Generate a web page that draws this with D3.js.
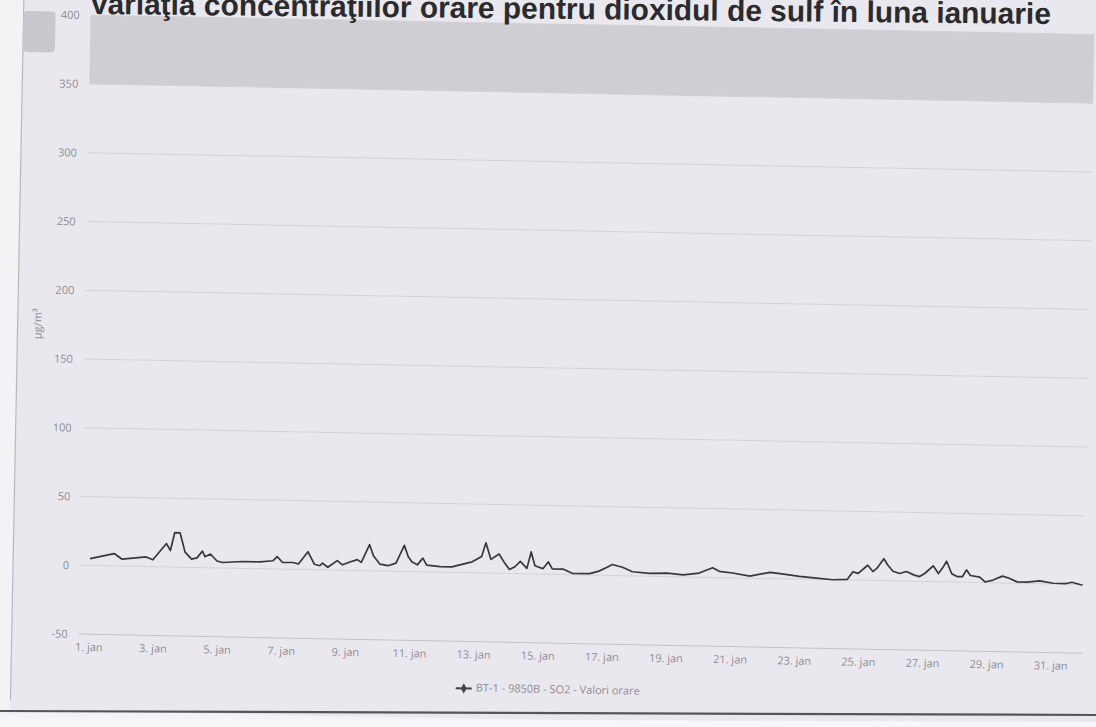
<!DOCTYPE html>
<html>
<head>
<meta charset="utf-8">
<script src="https://cdn.jsdelivr.net/npm/d3@7"></script>
<style>
html,body{margin:0;padding:0;background:#f3f3f5;}
svg{display:block;}
</style>
</head>
<body>
<svg id="chart" width="1096" height="727"></svg>
<script>
// ---------- data ----------
const titleText = "Variaţia concentraţiilor orare pentru dioxidul de sulf în luna ianuarie";
const yAxisTitle = "µg/m³";
const seriesName = "BT-1 - 9850B - SO2 - Valori orare";
const yTickValues = [-50, 0, 50, 100, 150, 200, 250, 300, 350, 400];
const tickDays = [1, 3, 5, 7, 9, 11, 13, 15, 17, 19, 21, 23, 25, 27, 29, 31];
const tickLabels = ["1. jan", "3. jan", "5. jan", "7. jan", "9. jan", "11. jan", "13. jan", "15. jan",
                    "17. jan", "19. jan", "21. jan", "23. jan", "25. jan", "27. jan", "29. jan", "31. jan"];
const plotBand = [350, 400];
// hours since 1 January 00:00
const hours = [0, 18, 24, 42, 47, 57, 60, 63, 67, 71, 76, 80, 84, 86, 90, 95, 99, 114, 127, 137,
  140, 144, 152, 156, 163, 168, 172, 174, 178, 185, 189, 194, 200, 203, 209, 212, 217, 223, 229, 235,
  238, 241, 245, 249, 252, 262, 271, 282, 286, 293, 296, 300, 306, 310, 314, 318, 322, 327, 330, 333,
  339, 343, 346, 354, 361, 374, 381, 387, 391, 399, 406, 419, 432, 444, 456, 466, 471, 481, 494, 509,
  518, 531, 544, 556, 567, 571, 575, 582, 586, 589, 594, 597, 601, 606, 611, 617, 621, 625, 631, 635,
  638, 641, 645, 649, 653, 656, 659, 666, 670, 676, 683, 688, 694, 701, 711, 721, 731, 735, 743];
const values = [5, 9, 5, 7, 5, 17, 12, 25, 25, 11, 6, 7, 12, 8, 10, 5, 4, 5, 5, 6,
  9, 5, 5, 4, 13, 4, 3, 5, 2, 7, 4, 6, 8, 6, 19, 11, 5, 4, 6, 19,
  11, 7, 5, 10, 5, 4, 4, 7, 8, 12, 22, 10, 14, 8, 3, 5, 9, 4, 16, 6,
  4, 9, 4, 4, 1, 1, 3, 6, 8, 6, 3, 2, 2.5, 1.5, 3, 7, 4.5, 3.5, 1.5, 4.5,
  3.5, 2, 1, 0, 0.5, 6, 5, 11, 6.5, 9, 16, 11.5, 7, 5.5, 7, 4.5, 3.5, 6, 11.5, 6,
  10, 15, 6, 4, 4, 9, 5, 4, 0.5, 2, 5, 3.5, 1, 1, 2, 0.5, 0.5, 1.5, -0.5];

// ---------- layout ----------
const W = 1096, H = 727;
const plot = {left: 84, right: 1088, top: 24, bottom: 643};
const tilt = 1.1; // the scanned page is slightly rotated

const svg = d3.select("#chart");
svg.append("rect").attr("width", W).attr("height", H).attr("fill", "#f3f3f5");

const g = svg.append("g").attr("transform", `rotate(${tilt},548,363)`);

// chart container background
g.append("rect").attr("x", 17).attr("y", -60).attr("width", 1200).attr("height", 780)
  .attr("fill", "#eae8ef");
g.append("line").attr("x1", 17).attr("x2", 17).attr("y1", -60).attr("y2", 711)
  .attr("stroke", "#b9b8be").attr("stroke-width", 1.2);

// scales
const x = d3.scaleLinear().domain([-7.4, 744]).range([plot.left, plot.right]);
const y = d3.scaleLinear().domain([-50, 400]).range([plot.bottom, plot.top]);

// plot band
g.append("rect")
  .attr("x", plot.left).attr("width", plot.right - plot.left)
  .attr("y", y(plotBand[1])).attr("height", y(plotBand[0]) - y(plotBand[1]))
  .attr("fill", "#cfced2");

// y axis with grid
const yAxis = d3.axisLeft(y).tickValues(yTickValues).tickSize(0).tickPadding(0)
  .tickFormat(d => String(d));
const yg = g.append("g").attr("transform", `translate(${plot.left - 11},0)`).call(yAxis);
yg.select(".domain").remove();
yg.selectAll("text").attr("fill", "#8e8d92").attr("font-size", 11)
  .attr("font-family", "Open Sans, sans-serif");

g.append("g").selectAll("line").data(yTickValues).join("line")
  .attr("x1", plot.left).attr("x2", plot.right)
  .attr("y1", d => y(d)).attr("y2", d => y(d))
  .attr("stroke", d => d === -50 ? "#c4c3c9" : "#d3d2d8").attr("stroke-width", 1);

// y axis title
g.append("text").attr("transform", `translate(38,${(plot.top + plot.bottom) / 2}) rotate(-90)`)
  .attr("text-anchor", "middle").attr("dominant-baseline", "middle")
  .attr("font-family", "Open Sans, sans-serif").attr("font-size", 11).attr("fill", "#8e8d92")
  .text(yAxisTitle);

// x axis labels (below the plot)
const xAxis = d3.axisBottom(x).tickValues(tickDays.map(d => (d - 1) * 24)).tickSize(0).tickPadding(0)
  .tickFormat((d, i) => tickLabels[i]);
const xg = g.append("g").attr("transform", `translate(0,${plot.bottom + 9})`).call(xAxis);
xg.select(".domain").remove();
xg.selectAll("text").attr("fill", "#8e8d92").attr("font-size", 11)
  .attr("font-family", "Open Sans, sans-serif");

// series line
const pts = hours.map((h, i) => [h, values[i]]);
const line = d3.line().x(d => x(d[0])).y(d => y(d[1]));
g.append("path").datum(pts).attr("d", line)
  .attr("fill", "none").attr("stroke", "#38373b").attr("stroke-width", 1.7)
  .attr("stroke-linejoin", "round");

// legend
const lg = g.append("g").attr("transform", "translate(470,690)");
lg.append("line").attr("x1", -8).attr("x2", 8).attr("y1", 0).attr("y2", 0)
  .attr("stroke", "#45444a").attr("stroke-width", 2);
lg.append("path").attr("d", d3.symbol(d3.symbolDiamond, 30)()).attr("fill", "#45444a");
lg.append("text").attr("x", 12).attr("y", 0).attr("dominant-baseline", "middle")
  .attr("font-family", "Open Sans, sans-serif").attr("font-size", 11).attr("fill", "#8e8d92")
  .text(seriesName);

// export-style button at top-left
g.append("rect").attr("x", 17).attr("y", 21).attr("width", 32).attr("height", 41).attr("rx", 4)
  .attr("fill", "#c9c8cc");

// bottom page rule and white margin below it
svg.append("path").attr("d", "M0,718 L1096,722 L1096,727 L0,727 Z").attr("fill", "#f6f6f8");
svg.append("line").attr("x1", 0).attr("y1", 711).attr("x2", 1096).attr("y2", 715)
  .attr("stroke", "#555458").attr("stroke-width", 2.2);

// title, fitted to its width in the picture (slightly less tilted than the plot)
const tg = svg.append("g").attr("transform", "rotate(0.6,570,17)");
const t = tg.append("text").attr("x", 570).attr("y", 19).attr("text-anchor", "middle")
  .attr("font-family", "Liberation Sans, Arial, sans-serif").attr("font-weight", "bold")
  .attr("font-size", 26).attr("fill", "#2b2b2e").text(titleText);
const len = t.node().getComputedTextLength();
t.attr("font-size", (26 * 962 / len).toFixed(2));
</script>
</body>
</html>
